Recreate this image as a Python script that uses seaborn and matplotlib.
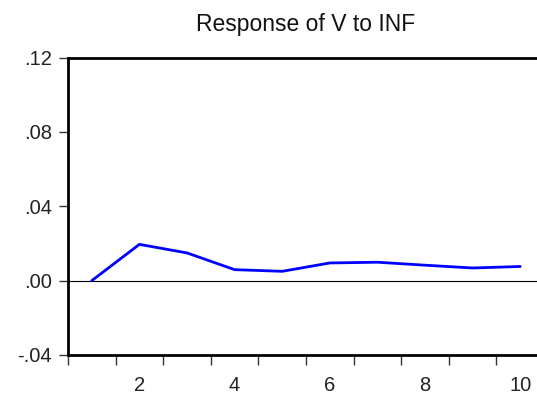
import pandas as pd
import matplotlib
matplotlib.use("Agg")
import matplotlib.pyplot as plt
import seaborn as sns

# Impulse response of V to INF, periods 1..10
periods = [1, 2, 3, 4, 5, 6, 7, 8, 9, 10]
response = [0.0, 0.0195, 0.0149, 0.0059, 0.0050, 0.0095, 0.0099, 0.0083, 0.0068, 0.0076]
y_ticks = [-0.04, 0.00, 0.04, 0.08, 0.12]
y_labels = ["-.04", ".00", ".04", ".08", ".12"]
x_labels = [2, 4, 6, 8, 10]

sns.set_style("ticks")
plt.rcParams['font.family'] = ['Liberation Sans', 'DejaVu Sans']

df = pd.DataFrame({"period": periods, "response": response})

fig = plt.figure(figsize=(5.37, 3.94), dpi=100)
# axes runs past the right edge of the figure, as in the original
ax = fig.add_axes([68 / 537, 1 - 355 / 394, (544 - 68) / 537, (355 - 57.5) / 394])

ax.axhline(0, color="black", linewidth=0.8, zorder=1)
sns.lineplot(data=df, x="period", y="response", color="#0000ff", linewidth=2.0, ax=ax, zorder=2)

ax.set_xlim(0.5, 10.5)
ax.set_ylim(-0.04, 0.12)
ax.set_yticks(y_ticks)
ax.set_yticklabels(y_labels)
ax.set_xticks(x_labels)
ax.set_xticklabels([str(v) for v in x_labels])
ax.set_xticks([p - 0.5 for p in periods] + [10.5], minor=True)
ax.tick_params(axis="x", which="major", length=0, pad=15, labelsize=14.5, colors="#222222")
ax.tick_params(axis="x", which="minor", length=7, width=1.0, color="#333333")
ax.tick_params(axis="y", length=6.5, width=1.0, labelsize=14.5, colors="#222222", pad=5)
ax.tick_params(axis="y", color="#333333")

for side in ["left", "bottom", "top"]:
    ax.spines[side].set_linewidth(2.0)
    ax.spines[side].set_color("black")
ax.spines["right"].set_visible(False)

ax.set_xlabel("")
ax.set_ylabel("")
ax.set_title("Response of V to INF", fontsize=16.5, color="#111111", pad=19)

fig.savefig("out.png", dpi=100)
